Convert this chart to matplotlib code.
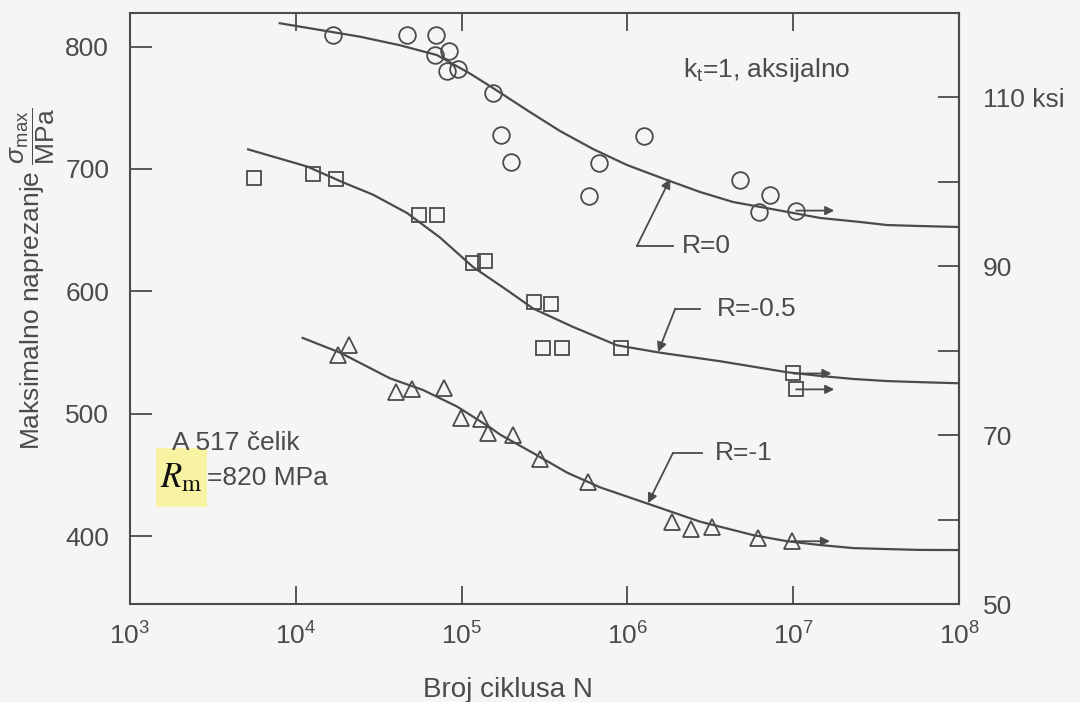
#!/usr/bin/env python3

import matplotlib
matplotlib.use("Agg")
import matplotlib.pyplot as plt
from matplotlib.patches import Rectangle

plt.rcParams["font.family"] = ["Liberation Sans", "DejaVu Sans"]
plt.rcParams["mathtext.fontset"] = "custom"
plt.rcParams["mathtext.rm"] = "Liberation Sans"
plt.rcParams["mathtext.it"] = "Liberation Sans:italic"
plt.rcParams["mathtext.bf"] = "Liberation Sans:bold"

INK = "#4b4b4b"
PAPER = "#f5f5f3"
MPA_PER_KSI = 6.894757

# test points (N cycles, sigma_max MPa)
n_r0 = [1.68e4, 4.7e4, 7.0e4, 6.9e4, 8.4e4, 8.2e4, 9.5e4, 1.55e5, 1.73e5,
        1.99e5, 6.7e5, 5.9e5, 1.26e6, 4.8e6, 7.2e6, 6.2e6]
s_r0 = [809, 809, 809, 793, 796, 780, 782, 762, 728, 706, 705, 678, 727,
        691, 679, 665]

n_r05 = [5.6e3, 1.27e4, 1.75e4, 5.5e4, 7.1e4, 1.17e5, 1.38e5, 2.73e5,
         3.46e5, 3.1e5, 4.03e5, 9.1e5]
s_r05 = [693, 696, 692, 662, 662, 623, 625, 591, 590, 554, 554, 554]

n_r1 = [1.8e4, 2.1e4, 4.0e4, 5.0e4, 7.8e4, 9.9e4, 1.31e5, 1.44e5, 2.04e5,
        2.97e5, 5.8e5, 1.86e6, 2.42e6, 3.24e6, 6.1e6]
s_r1 = [548, 556, 518, 520, 521, 497, 496, 484, 483, 463, 444, 412, 406,
        408, 399]

# run-outs (did not fail)
runout_n = [1.04e7, 1.0e7, 1.04e7, 9.8e6]
runout_s = [666, 533, 520, 396]
runout_kind = ["o", "s", "s", "^"]

# fitted curves
curve_r0_n = [8.0e3, 1.4e4, 2.44e4, 4.25e4, 7.1e4, 1.12e5, 1.55e5, 2.48e5,
              3.92e5, 6.2e5, 9.95e5, 1.73e6, 2.74e6, 4.34e6, 6.95e6, 1.1e7,
              1.45e7, 2.53e7, 3.68e7, 5.82e7, 1.0e8]
curve_r0_s = [819, 813.5, 808, 801, 793, 778, 766, 748, 731, 716.3, 703.2,
              691, 681.2, 673, 668, 663, 660, 656.7, 654.2, 653.4, 652.6]

curve_r05_n = [5.15e3, 1.17e4, 1.93e4, 2.92e4, 4.69e4, 7.41e4, 1.17e5,
               1.88e5, 2.70e5, 4.70e5, 8.65e5, 1.57e6, 3.62e6, 9.18e6,
               1.45e7, 2.3e7, 3.68e7, 5.82e7, 1.0e8]
curve_r05_s = [716, 702, 689, 679, 664, 644, 620, 601, 586, 571, 556, 550,
               543, 534, 531, 528.5, 526.8, 525.9, 525]

curve_r1_n = [1.10e4, 1.85e4, 3.70e4, 5.85e4, 9.38e4, 1.48e5, 1.71e5,
              2.70e5, 4.33e5, 6.84e5, 1.37e6, 2.74e6, 5.73e6, 9.18e6,
              1.45e7, 2.3e7, 3.68e7, 5.82e7, 1.0e8]
curve_r1_s = [562, 550, 529, 519.5, 506, 489, 483, 468, 452, 440, 426, 412,
              401, 396, 392.9, 390.4, 389.6, 388.9, 388.8]

x_ticks = [1e3, 1e4, 1e5, 1e6, 1e7, 1e8]
x_labels = [r"$10^{3}$", r"$10^{4}$", r"$10^{5}$", r"$10^{6}$",
            r"$10^{7}$", r"$10^{8}$"]
y_ticks = [400, 500, 600, 700, 800]
ksi_ticks = [50, 60, 70, 80, 90, 100, 110]
ksi_labels = ["50", "", "70", "", "90", "", "110 ksi"]


def leader(ax, corner, end, tip):
    # horizontal stub from the label, then a slanted arrow onto the curve
    ax.plot([corner[0], end[0]], [corner[1], end[1]], color=INK, lw=1.3)
    ax.annotate("", xy=tip, xytext=corner,
                arrowprops=dict(arrowstyle="-|>", color=INK, lw=1.3,
                                mutation_scale=14, shrinkA=0, shrinkB=0))


def main():
    fig = plt.figure(figsize=(10.8, 7.02), dpi=100, facecolor=PAPER)
    ax = fig.add_axes([0.1204, 0.1396, 0.7676, 0.8419], facecolor=PAPER)
    ax.set_xscale("log")
    ax.set_xlim(1e3, 1e8)
    ax.set_ylim(50 * MPA_PER_KSI, 120 * MPA_PER_KSI)

    line_kw = dict(color=INK, lw=1.6)
    ax.plot(curve_r0_n, curve_r0_s, **line_kw)
    ax.plot(curve_r05_n, curve_r05_s, **line_kw)
    ax.plot(curve_r1_n, curve_r1_s, **line_kw)

    mk = dict(ls="none", mfc="none", mec=INK, mew=1.3)
    ax.plot(n_r0, s_r0, marker="o", ms=12, **mk)
    ax.plot(n_r05, s_r05, marker="s", ms=10, **mk)
    ax.plot(n_r1, s_r1, marker="^", ms=12, **mk)

    for n, s, m in zip(runout_n, runout_s, runout_kind):
        ax.plot([n], [s], marker=m, ms=12 if m != "s" else 10, **mk)
        ax.annotate("", xy=(n * 1.7, s), xytext=(n, s),
                    arrowprops=dict(arrowstyle="-|>", color=INK, lw=1.3,
                                    mutation_scale=13, shrinkA=0, shrinkB=0))

    # labels of the curves
    leader(ax, (1.14e6, 637), (1.88e6, 637), (1.81e6, 692))
    ax.text(2.13e6, 637, "R=0", fontsize=19, color=INK, va="center")
    leader(ax, (1.94e6, 585.6), (2.74e6, 585.6), (1.53e6, 550.5))
    ax.text(3.47e6, 585.6, "R=-0.5", fontsize=19, color=INK, va="center")
    leader(ax, (1.88e6, 468), (2.82e6, 468), (1.33e6, 427))
    ax.text(3.37e6, 468, "R=-1", fontsize=19, color=INK, va="center")

    ax.text(2.16e6, 781, r"k$_\mathregular{t}$=1, aksijalno", fontsize=19,
            color=INK, va="center")

    ax.text(1.79e3, 470.5, "A 517 čelik", fontsize=19, color=INK,
            va="baseline")
    ax.add_patch(Rectangle((1.435e3, 424), 2.911e3 - 1.435e3, 472 - 424,
                           facecolor="#f7f3a3", edgecolor="none", zorder=2))
    ax.text(2.05e3, 448, r"$R_{\mathrm{m}}$", fontsize=25, color="#111111",
            ha="center", va="center", math_fontfamily="stix", zorder=3)
    ax.text(2.91e3, 442, "=820 MPa", fontsize=19, color=INK, va="baseline")

    # axes styling
    for sp in ax.spines.values():
        sp.set_color(INK)
        sp.set_linewidth(1.5)
    ax.set_xticks(x_ticks)
    ax.set_xticklabels(x_labels)
    ax.minorticks_off()
    ax.tick_params(axis="x", which="major", direction="in", length=13,
                   width=1.3, color=INK, labelcolor=INK, labelsize=19,
                   top=True, pad=13)
    ax.set_yticks(y_ticks)
    ax.tick_params(axis="y", direction="in", length=16, width=1.3, color=INK,
                   labelcolor=INK, labelsize=19, pad=15)

    sec = ax.secondary_yaxis("right", functions=(lambda m: m / MPA_PER_KSI,
                                                 lambda k: k * MPA_PER_KSI))
    sec.set_yticks(ksi_ticks)
    sec.set_yticklabels(ksi_labels)
    sec.spines["right"].set_color(INK)
    sec.spines["right"].set_linewidth(1.5)
    sec.tick_params(direction="in", length=15, width=1.3, color=INK,
                    labelcolor=INK, labelsize=19, pad=17)
    ax.tick_params(axis="y", right=False)

    fig.text(0.47, 0.007, "Broj ciklusa N", fontsize=20, color=INK,
             ha="center", va="baseline")
    fig.text(0.03, 0.603,
             r"Maksimalno naprezanje $\dfrac{\sigma_{\mathrm{max}}}{\mathrm{MPa}}$",
             fontsize=19, color=INK, rotation=90, ha="center", va="center")

    fig.savefig("out.png", dpi=100, facecolor=PAPER)


if __name__ == "__main__":
    main()
